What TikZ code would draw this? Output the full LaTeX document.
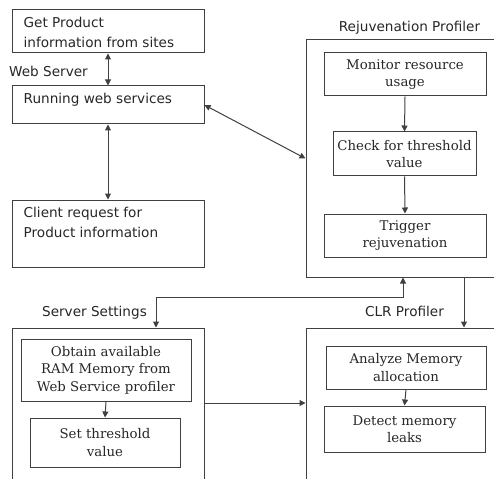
\documentclass[tikz,border=0pt]{standalone}
\usepackage{fontspec}
\newfontfamily\sansfam{DejaVu Sans}
\newfontfamily\seriffam{DejaVu Serif}
\usetikzlibrary{arrows.meta}

\begin{document}
\begin{tikzpicture}[x=1pt, y=-1pt,
    every node/.style={font=\sansfam\fontsize{13.6}{20}\selectfont, text=black!85},
    frame/.style={rectangle, draw=black!75, line width=1pt, inner sep=0pt},
    stepbox/.style={frame, font=\seriffam\fontsize{13.3}{17.5}\selectfont, align=center},
    txt/.style={inner sep=0pt, align=left, anchor=north west},
    title/.style={inner sep=0pt, anchor=base},
    link/.style={draw=black!75, line width=1pt},
    >={Triangle[length=6pt, width=6pt]},
  ]

  \useasboundingbox (0,0) rectangle (494,478);
  \clip (0,0) rectangle (494,478);

  % Web server column
  \node[frame, minimum width=192pt, minimum height=43pt] (getinfo) at (108,31.5) {};
  \node[txt] (getinfotxt) at ([shift={(12pt,-7pt)}]getinfo.north west) {Get Product\\information from sites};
  \node[frame, minimum width=192pt, minimum height=38pt] (run) at (108,105) {};
  \node[txt] (runtxt) at ([shift={(12pt,-7pt)}]run.north west) {Running web services};
  \node[frame, minimum width=192pt, minimum height=67pt] (client) at (108,233.5) {};
  \node[txt] (clienttxt) at ([shift={(12pt,-7pt)}]client.north west) {Client request for\\Product information};

  % Outer profiler frames
  \node[frame, minimum width=204pt, minimum height=237pt] (rejuv) at (408,158.5) {};
  \node[frame, minimum width=192pt, minimum height=162pt] (server) at (108,409) {};
  \node[frame, minimum width=204pt, minimum height=162pt] (clr) at (408,409) {};

  % Titles
  \node[title] (webserver) at (48.5,77) {Web Server};
  \node[title] (rejuvtitle) at (409.5,32) {Rejuvenation Profiler};
  \node[title] (servertitle) at (94.5,316) {Server Settings};
  \node[title] (clrtitle) at (404.5,316) {CLR Profiler};

  % Rejuvenation steps
  \node[stepbox, minimum width=162pt, minimum height=43pt] (monitor) at (405,74.5) {Monitor resource\\usage};
  \node[stepbox, minimum width=143pt, minimum height=44pt] (check) at (404.5,154) {Check for threshold\\value};
  \node[stepbox, minimum width=162pt, minimum height=43pt] (trigger) at (405,235.5) {Trigger\\rejuvenation};

  % Server settings steps
  \node[stepbox, minimum width=170pt, minimum height=62pt] (obtain) at (106,370) {Obtain available\\RAM Memory from\\Web Service profiler};
  \node[stepbox, minimum width=150pt, minimum height=49pt] (setthr) at (105,442.5) {Set threshold\\value};

  % CLR profiler steps
  \node[stepbox, minimum width=160pt, minimum height=43pt] (analyze) at (406,367.5) {Analyze Memory\\allocation};
  \node[stepbox, minimum width=161pt, minimum height=46pt] (detect) at (404.5,429) {Detect memory\\leaks};

  % Arrows
  \draw[link, <->] (getinfo.south) -- (run.north);
  \draw[link, <->] (run.south) -- (client.north);
  \draw[link, <->] (run.east) -- (rejuv.west);
  \draw[link, ->] (monitor.south) -- (check.north);
  \draw[link, ->] (check.south) -- (trigger.north);
  \draw[link, ->] (obtain.south) -- (setthr.north);
  \draw[link, ->] (analyze.south) -- (detect.north);
  \draw[link, <->] ([xshift=48pt]server.north) -- ++(0,-30) -| ([xshift=-5pt]rejuv.south);
  \draw[link, ->] ([xshift=56pt]rejuv.south) -- ([xshift=56pt]clr.north);
  \draw[link, ->] ([yshift=6pt]server.east) -- ([yshift=6pt]clr.west);

\end{tikzpicture}
\end{document}
